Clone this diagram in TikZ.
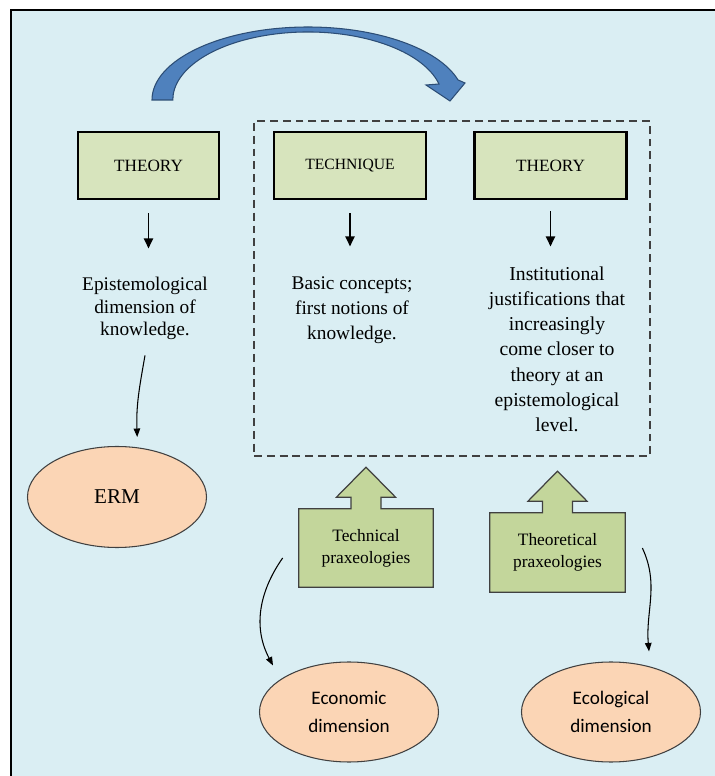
\documentclass[tikz,border=0pt]{standalone}
\usepackage{fontspec}
\setmainfont{Liberation Serif}
\newfontfamily\calibrifont{Carlito}
\usetikzlibrary{shapes,arrows.meta,positioning,calc,backgrounds}
\definecolor{bgaqua}{HTML}{DAEEF3}
\definecolor{boxolive}{HTML}{D7E4BD}
\definecolor{praxolive}{HTML}{C3D69B}
\definecolor{dimpeach}{HTML}{FBD5B5}
\definecolor{curveblue}{HTML}{4F81BD}
\definecolor{curveedge}{HTML}{2C4D75}
\definecolor{edgegray}{HTML}{404040}

\begin{document}
\begin{tikzpicture}[
  box/.style={rectangle, draw=black, line width=1.4pt, fill=boxolive, minimum width=3.04cm, minimum height=1.35cm, align=center},
  note/.style={align=center, inner sep=0pt, font=\fontsize{11}{13}\selectfont},
  praxbox/.style={rectangle, minimum width=2.68cm, minimum height=1.56cm, align=center, font=\fontsize{9.9}{12.5}\selectfont},
  callout/.style={draw=edgegray, line width=0.7pt, fill=praxolive},
  dimoval/.style={ellipse, draw=edgegray, line width=0.6pt, fill=dimpeach, minimum width=3.58cm, minimum height=2cm, align=center},
  arrow/.style={-{Triangle[length=0.2cm,width=0.18cm]}, line width=1.1pt},
  thinarrow/.style={-{Triangle[length=0.17cm,width=0.13cm]}, line width=0.6pt},
  dashbox/.style={rectangle, draw=edgegray, line width=0.6pt, dash pattern=on 4.5pt off 2.8pt}
]

\useasboundingbox (0,0) rectangle (14.3,15.52);

% Background panel
\begin{pgfonlayer}{background}
\fill[bgaqua] (0.22,0) rectangle (14.3,15.32);
\end{pgfonlayer}
\draw[line width=1.1pt, line cap=rect] (0.22,0) -- (0.22,15.32) -- (14.3,15.32);

% Top row
\node[box, minimum width=2.82cm, font=\fontsize{9.8}{12}\selectfont] (theoryL) at (2.97,12.21) {THEORY};
\node[box, font=\fontsize{8.9}{11}\selectfont] (technique) at (7.00,12.21) {TECHNIQUE};
\node[box, font=\fontsize{9.8}{12}\selectfont] (theoryR) at (11.01,12.21) {THEORY};

% Descriptions
\node[note, below=1.52cm of theoryL, xshift=-0.07cm] (epist) {Epistemological\\dimension of\\knowledge.};
\node[note, below=1.52cm of technique, xshift=0.04cm, font=\fontsize{11}{14.2}\selectfont] (basic) {Basic concepts;\\first notions of\\knowledge.};
\node[note, below=1.32cm of theoryR, xshift=0.13cm, font=\fontsize{11.2}{14.3}\selectfont] (inst) {Institutional\\justifications that\\increasingly\\come closer to\\theory at an\\epistemological\\level.};

\draw[arrow, shorten <=0.26cm, shorten >=0.56cm] (theoryL.south) -- (theoryL.south |- epist.north);
\draw[arrow, shorten <=0.26cm, shorten >=0.6cm] (technique.south) -- (technique.south |- basic.north);
\draw[arrow, shorten <=0.22cm, shorten >=0.4cm] (theoryR.south) -- (theoryR.south |- inst.north);

% Dashed group
\node[dashbox, minimum width=7.92cm, minimum height=6.70cm] (group) at (9.04,9.75) {};

% Curved block arrow
\filldraw[fill=curveblue, draw=curveedge, line width=0.6pt] (3.04,13.52) arc[start angle=180, end angle=16, x radius=3.12cm, y radius=1.46cm] -- (9.30,13.86) -- (9.00,13.50) -- (8.52,13.82) -- (8.78,13.84) arc[start angle=13.6, end angle=180, x radius=2.70cm, y radius=1.36cm] -- cycle;

% Ovals
\node[dimoval, minimum height=2.02cm, font=\fontsize{12}{14}\selectfont] (erm) at (2.34,5.58) {ERM};
\node[dimoval, font=\calibrifont\fontsize{10.9}{15.9}\selectfont] (econ) at (6.98,1.28) {Economic\\dimension};
\node[dimoval, font=\calibrifont\fontsize{10.9}{15.9}\selectfont] (ecol) at (12.22,1.28) {Ecological\\dimension};

% Praxeology callouts
\node[praxbox] (techp) at (7.32,4.56) {Technical\\praxeologies};
\node[praxbox, minimum width=2.70cm, minimum height=1.58cm] (theop) at (11.15,4.47) {Theoretical\\praxeologies};
\begin{pgfonlayer}{background}
\foreach \p in {techp,theop}
  \draw[callout] (\p.south west) -- (\p.north west) -- ([xshift=-0.3cm]\p.north) -- ++(0,0.23) -- ++(-0.29,0) -- ([yshift=0.83cm]\p.north) -- ([xshift=0.59cm,yshift=0.23cm]\p.north) -- ++(-0.29,0) -- ([xshift=0.3cm]\p.north) -- (\p.north east) -- (\p.south east) -- cycle;
\end{pgfonlayer}

% Curved connectors
\draw[thinarrow] ([yshift=-0.3cm]epist.south) to[out=-100, in=92] ([xshift=0.04cm,yshift=0.2cm]erm.70);
\draw[thinarrow] ([xshift=-0.32cm,yshift=-0.2cm]techp.west) to[out=-125, in=118] ([xshift=-1.52cm,yshift=-0.08cm]econ.north);
\draw[thinarrow] ([xshift=0.34cm,yshift=0.09cm]theop.east) to[out=-65, in=95] ([xshift=0.76cm,yshift=0.2cm]ecol.north);

\end{tikzpicture}
\end{document}
